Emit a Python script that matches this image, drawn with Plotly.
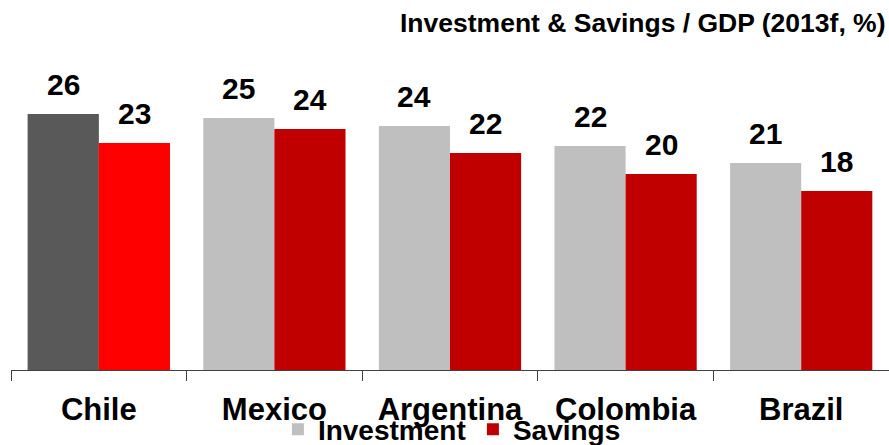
import plotly.graph_objects as go

# Investment and savings as % of GDP, 2013 forecast
countries = ["Chile", "Mexico", "Argentina", "Colombia", "Brazil"]
investment = [25.6, 25.2, 24.4, 22.4, 20.7]
savings = [22.7, 24.1, 21.7, 19.6, 17.9]

title_text = "Investment & Savings / GDP (2013f, %)"

INV_COLOR = "#BFBFBF"
SAV_COLOR = "#C00000"
HL_INV_COLOR = "#595959"
HL_SAV_COLOR = "#FF0000"
FONT = "Liberation Sans, Arial, sans-serif"

BAR_W = 0.405  # bar width in category units

fig = go.Figure()

fig.add_trace(go.Bar(
    name="Investment", x=countries, y=investment,
    width=BAR_W, offset=-BAR_W,
    marker=dict(color=INV_COLOR, line=dict(width=0)),
))
fig.add_trace(go.Bar(
    name="Savings", x=countries, y=savings,
    width=BAR_W, offset=0,
    marker=dict(color=SAV_COLOR, line=dict(width=0)),
))
# Chile highlighted in darker tones, drawn over the regular bars
fig.add_trace(go.Bar(
    x=countries[:1], y=investment[:1], width=BAR_W, offset=-BAR_W,
    marker=dict(color=HL_INV_COLOR, line=dict(width=0)), showlegend=False,
))
fig.add_trace(go.Bar(
    x=countries[:1], y=savings[:1], width=BAR_W, offset=0,
    marker=dict(color=HL_SAV_COLOR, line=dict(width=0)), showlegend=False,
))

# Value labels above each bar
annotations = []
for i, (inv, sav) in enumerate(zip(investment, savings)):
    for xpos, val in ((i - BAR_W / 2, inv), (i + BAR_W / 2, sav)):
        annotations.append(dict(
            x=xpos, y=val, xref="x", yref="y",
            text=f"{val:.0f}", showarrow=False,
            yanchor="bottom", xanchor="center", yshift=11,
            font=dict(family=FONT, size=30, color="black", weight="bold"),
        ))

annotations.append(dict(
    x=1, y=1.155, xref="paper", yref="paper",
    text=title_text, showarrow=False,
    xanchor="right", yanchor="middle", xshift=-1,
    font=dict(family=FONT, size=26.5, color="black", weight="bold"),
))

fig.update_layout(
    width=889, height=445,
    margin=dict(l=11, r=0, t=70, b=75, autoexpand=False),
    paper_bgcolor="white", plot_bgcolor="white",
    barmode="overlay",
    annotations=annotations,
    showlegend=True,
    legend=dict(
        orientation="h", x=0.304, xanchor="left", y=-0.115, yanchor="top",
        font=dict(family=FONT, size=28, color="black", weight="bold"),
        entrywidth=150, entrywidthmode="pixels",
        bgcolor="rgba(0,0,0,0)", itemclick=False,
    ),
    xaxis=dict(
        type="category", categoryorder="array", categoryarray=countries,
        range=[-0.5, 4.5],
        showline=True, linecolor="#404040", linewidth=1,
        ticks="outside", tickson="boundaries", ticklen=10,
        tickcolor="#404040", tickwidth=1, ticklabelstandoff=12,
        tickfont=dict(family=FONT, size=31, color="black", weight="bold"),
        showgrid=False, zeroline=False,
    ),
    yaxis=dict(range=[0, 30], visible=False, showgrid=False, zeroline=False),
)

fig.write_html("out.html")
